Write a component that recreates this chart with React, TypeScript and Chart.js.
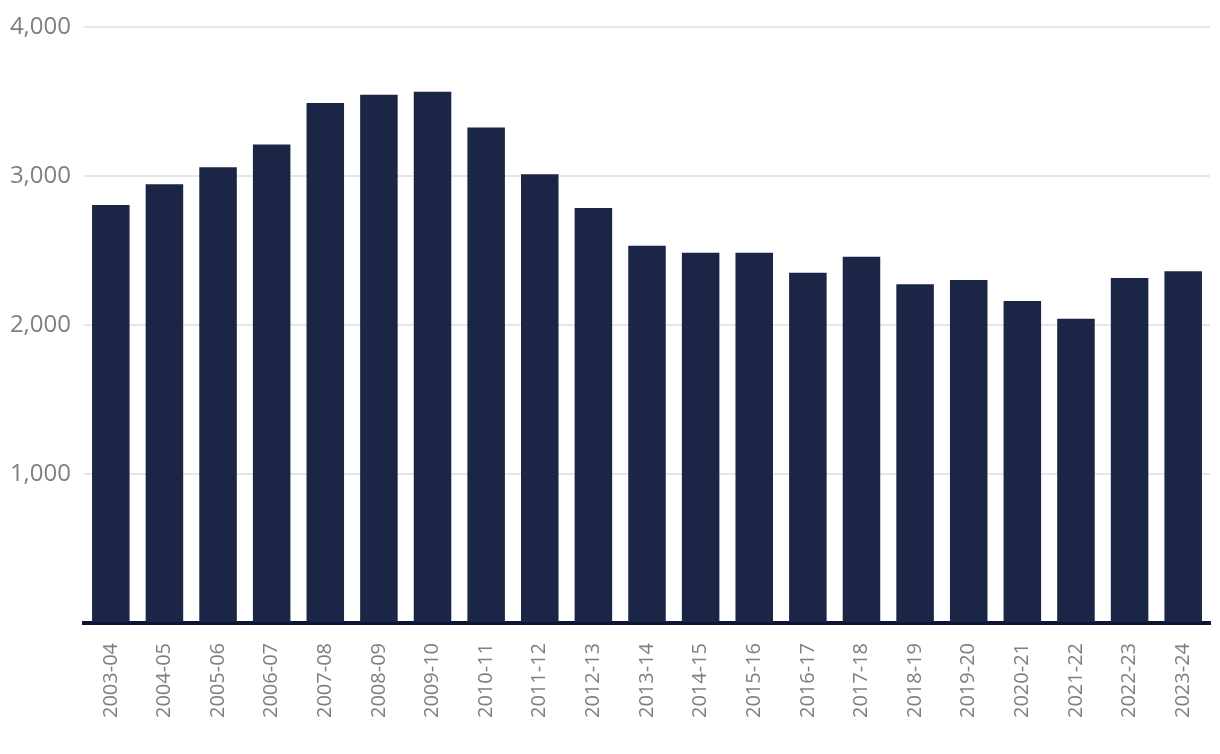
import React, { useEffect, useRef } from "react";
import { Chart, registerables } from "chart.js";

Chart.register(...registerables);

const categories = [
  "2003-04", "2004-05", "2005-06", "2006-07", "2007-08", "2008-09", "2009-10",
  "2010-11", "2011-12", "2012-13", "2013-14", "2014-15", "2015-16", "2016-17",
  "2017-18", "2018-19", "2019-20", "2020-21", "2021-22", "2022-23", "2023-24",
];

const values = [
  2807, 2947, 3060, 3213, 3493, 3547, 3567,
  3327, 3013, 2787, 2533, 2487, 2487, 2353,
  2460, 2275, 2303, 2163, 2043, 2317, 2363,
];

const yTicks = [0, 1000, 2000, 3000, 4000];

export default function App() {
  const ref = useRef<HTMLCanvasElement | null>(null);

  useEffect(() => {
    document.body.style.margin = "0";
    const canvas = ref.current;
    if (!canvas) return;
    const chart = new Chart(canvas, {
      type: "bar",
      data: {
        labels: categories,
        datasets: [
          {
            data: values,
            backgroundColor: "#1b2646",
            barPercentage: 0.7,
            categoryPercentage: 1,
          },
        ],
      },
      options: {
        animation: false,
        responsive: false,
        maintainAspectRatio: false,
        layout: { padding: { left: 0, right: 10, top: 23, bottom: 0 } },
        plugins: { legend: { display: false }, tooltip: { enabled: false } },
        scales: {
          x: {
            z: 1,
            grid: { display: false, drawTicks: false },
            border: { display: true, color: "#0d1636", width: 4 },
            ticks: {
              color: "#7f7f7f",
              font: { family: "'Open Sans'", size: 20 },
              minRotation: 90,
              maxRotation: 90,
              padding: 20,
              autoSkip: false,
            },
            afterFit: (s: any) => {
              s.height = 131;
              s.paddingRight = 0;
              s.paddingLeft = 0;
            },
          },
          y: {
            min: yTicks[0],
            max: yTicks[yTicks.length - 1],
            afterBuildTicks: (s: any) => {
              s.ticks = yTicks.map((v) => ({ value: v }));
            },
            grid: { color: "#e6e6e6", lineWidth: 2, drawTicks: false },
            border: { display: false },
            ticks: {
              color: "#7f7f7f",
              font: { family: "'Open Sans'", size: 24 },
              padding: 13,
              callback: (v: any) => (v === 0 ? "" : Number(v).toLocaleString("en-US")),
            },
            afterFit: (s: any) => {
              s.width = 84;
            },
          },
        },
      },
    });
    return () => chart.destroy();
  }, []);

  return (
    <div style={{ width: 1220, height: 754 }}>
      <canvas ref={ref} width={1220} height={754} style={{ display: "block" }} />
    </div>
  );
}
